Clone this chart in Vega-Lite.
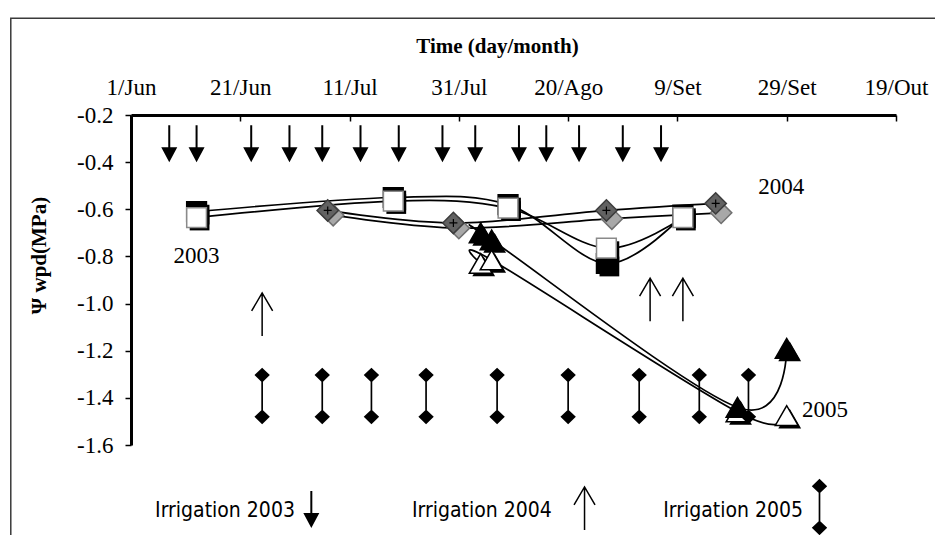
{
  "$schema": "https://vega.github.io/schema/vega-lite/v6.json",
  "width": 765,
  "height": 330,
  "autosize": {"type": "none"},
  "padding": {"left": 131, "top": 115, "right": 39, "bottom": 90},
  "background": "white",
  "config": {"font": "Liberation Serif", "view": {"stroke": null}},
  "datasets": {
    "obs": [
      {"year": "2003", "series": "2003 B", "date": "2000-06-13", "psi": -0.61},
      {"year": "2003", "series": "2003 B", "date": "2000-07-19", "psi": -0.55},
      {"year": "2003", "series": "2003 B", "date": "2000-08-09", "psi": -0.58},
      {"year": "2003", "series": "2003 B", "date": "2000-08-27", "psi": -0.83},
      {"year": "2003", "series": "2003 B", "date": "2000-09-10", "psi": -0.625},
      {"year": "2003", "series": "2003 W", "date": "2000-06-13", "psi": -0.635},
      {"year": "2003", "series": "2003 W", "date": "2000-07-19", "psi": -0.565},
      {"year": "2003", "series": "2003 W", "date": "2000-08-09", "psi": -0.595},
      {"year": "2003", "series": "2003 W", "date": "2000-08-27", "psi": -0.765},
      {"year": "2003", "series": "2003 W", "date": "2000-09-10", "psi": -0.635},
      {"year": "2004", "series": "2004 P", "date": "2000-07-08", "psi": -0.625},
      {"year": "2004", "series": "2004 P", "date": "2000-07-31", "psi": -0.68},
      {"year": "2004", "series": "2004 P", "date": "2000-08-28", "psi": -0.64},
      {"year": "2004", "series": "2004 P", "date": "2000-09-17", "psi": -0.615},
      {"year": "2004", "series": "2004 G", "date": "2000-07-07", "psi": -0.605},
      {"year": "2004", "series": "2004 G", "date": "2000-07-30", "psi": -0.658},
      {"year": "2004", "series": "2004 G", "date": "2000-08-27", "psi": -0.605},
      {"year": "2004", "series": "2004 G", "date": "2000-09-16", "psi": -0.575},
      {"year": "2005", "series": "2005 W", "date": "2000-08-04", "psi": -0.83},
      {"year": "2005", "series": "2005 W", "date": "2000-08-06", "psi": -0.815},
      {"year": "2005", "series": "2005 W", "date": "2000-09-20", "psi": -1.46},
      {"year": "2005", "series": "2005 W", "date": "2000-09-29", "psi": -1.475},
      {"year": "2005", "series": "2005 B", "date": "2000-08-04", "psi": -0.70},
      {"year": "2005", "series": "2005 B", "date": "2000-08-06", "psi": -0.73},
      {"year": "2005", "series": "2005 B", "date": "2000-09-20", "psi": -1.44},
      {"year": "2005", "series": "2005 B", "date": "2000-09-29", "psi": -1.19}
    ],
    "irr2003": [
      {"date": "2000-06-08"}, {"date": "2000-06-13"}, {"date": "2000-06-23"}, {"date": "2000-06-30"},
      {"date": "2000-07-06"}, {"date": "2000-07-13"}, {"date": "2000-07-20"}, {"date": "2000-07-28"},
      {"date": "2000-08-03"}, {"date": "2000-08-11"}, {"date": "2000-08-16"}, {"date": "2000-08-22"},
      {"date": "2000-08-30"}, {"date": "2000-09-06"}
    ],
    "irr2004a": [{"date": "2000-06-25"}],
    "irr2004b": [{"date": "2000-09-04"}, {"date": "2000-09-10"}],
    "irr2005": [
      {"date": "2000-06-25"}, {"date": "2000-07-06"}, {"date": "2000-07-15"}, {"date": "2000-07-25"},
      {"date": "2000-08-07"}, {"date": "2000-08-20"}, {"date": "2000-09-02"}, {"date": "2000-09-13"},
      {"date": "2000-09-22"}
    ]
  },
  "layer": [
    {
      "data": {"values": [{}]},
      "mark": {"type": "rect", "filled": false, "color": "#3a3a3a", "strokeWidth": 1.5},
      "encoding": {
        "x": {"datum": {"year": 2000, "month": 5, "date": 10, "utc": true}, "type": "temporal", "scale": {"type": "utc"}},
        "x2": {"datum": {"year": 2000, "month": 11, "date": 8, "utc": true}},
        "y": {"datum": 0.21, "type": "quantitative"},
        "y2": {"datum": -2.4}
      }
    },
    {
      "encoding": {
        "x": {
          "field": "date",
          "type": "temporal",
          "scale": {
            "type": "utc",
            "domain": [
              {"year": 2000, "month": 6, "date": 1, "utc": true},
              {"year": 2000, "month": 10, "date": 19, "utc": true}
            ]
          },
          "axis": {
            "orient": "top",
            "values": [
              {"year": 2000, "month": 6, "date": 1, "utc": true},
              {"year": 2000, "month": 6, "date": 21, "utc": true},
              {"year": 2000, "month": 7, "date": 11, "utc": true},
              {"year": 2000, "month": 7, "date": 31, "utc": true},
              {"year": 2000, "month": 8, "date": 20, "utc": true},
              {"year": 2000, "month": 9, "date": 9, "utc": true},
              {"year": 2000, "month": 9, "date": 29, "utc": true},
              {"year": 2000, "month": 10, "date": 19, "utc": true}
            ],
            "labelExpr": "utcdate(datum.value) + '/' + ['Jan','Fev','Mar','Abr','Mai','Jun','Jul','Ago','Set','Out','Nov','Dez'][utcmonth(datum.value)]",
            "title": "Time (day/month)",
            "titleFont": "Liberation Serif",
            "titleFontWeight": "bold",
            "titleFontSize": 21,
            "titleColor": "black",
            "titleX": 366,
            "titleY": -63,
            "titleBaseline": "alphabetic",
            "titleAlign": "center",
            "labelFont": "Liberation Serif",
            "labelFontSize": 23,
            "labelColor": "black",
            "labelPadding": 22,
            "labelFlush": false,
            "labelOverlap": false,
            "domainColor": "black",
            "domainWidth": 3,
            "tickColor": "black",
            "tickWidth": 1.5,
            "tickSize": -6,
            "grid": false
          }
        }
      },
      "layer": [
        {
          "encoding": {
            "y": {
              "field": "psi",
              "type": "quantitative",
              "scale": {"domain": [-1.6, -0.2], "nice": false, "zero": false},
              "axis": {
                "values": [-0.2, -0.4, -0.6, -0.8, -1.0, -1.2, -1.4, -1.6],
                "format": ".1f",
                "labelExpr": "replace(datum.label, '\u2212', '-')",
                "title": "Ψ wpd(MPa)",
                "titleFont": "Liberation Serif",
                "titleFontWeight": "bold",
                "titleFontSize": 21,
                "titleColor": "black",
                "titleAngle": -90,
                "titleX": -92,
                "titleY": 140,
                "titleBaseline": "middle",
                "titleAlign": "center",
                "labelFont": "Liberation Serif",
                "labelFontSize": 23,
                "labelColor": "black",
                "labelPadding": 12,
                "labelOverlap": false,
                "domainColor": "black",
                "domainWidth": 3,
                "tickColor": "black",
                "tickWidth": 1.5,
                "tickSize": 6,
                "grid": false
              }
            }
          },
          "layer": [
            {
              "data": {"name": "obs"},
              "mark": {"type": "line", "interpolate": "cardinal", "color": "black", "strokeWidth": 1.7},
              "encoding": {"detail": {"field": "series"}}
            },
            {
              "data": {"name": "obs"},
              "transform": [{"filter": "datum.year != '2004'"}],
              "mark": {"type": "point", "filled": true, "color": "black", "opacity": 1, "xOffset": 3, "yOffset": 3},
              "encoding": {
                "shape": {"field": "year", "type": "nominal", "scale": {"domain": ["2003", "2004", "2005"], "range": ["square", "diamond", "triangle-up"]}, "legend": null},
                "size": {"field": "year", "type": "ordinal", "scale": {"domain": ["2003", "2004", "2005"], "range": [390, 520, 430]}, "legend": null}
              }
            },
            {
              "data": {"name": "obs"},
              "mark": {"type": "point", "filled": true, "opacity": 1, "strokeWidth": 1.5},
              "encoding": {
                "shape": {"field": "year", "type": "nominal", "scale": {"domain": ["2003", "2004", "2005"], "range": ["square", "diamond", "triangle-up"]}, "legend": null},
                "size": {"field": "year", "type": "ordinal", "scale": {"domain": ["2003", "2004", "2005"], "range": [390, 520, 430]}, "legend": null},
                "fill": {"field": "series", "type": "nominal", "scale": {"domain": ["2003 B", "2003 W", "2004 P", "2004 G", "2005 W", "2005 B"], "range": ["black", "white", "#a8a8a8", "#626262", "white", "black"]}, "legend": null},
                "stroke": {"field": "series", "type": "nominal", "scale": {"domain": ["2003 B", "2003 W", "2004 P", "2004 G", "2005 W", "2005 B"], "range": ["black", "#8a8a8a", "#6f6f6f", "#3c3c3c", "black", "black"]}, "legend": null}
              }
            },
            {
              "data": {"name": "obs"},
              "transform": [{"filter": "datum.series == '2004 G'"}],
              "mark": {"type": "point", "shape": "M-1,0L1,0M0,-1L0,1", "filled": false, "color": "black", "size": 64, "opacity": 1, "strokeWidth": 1.2}
            }
          ]
        },
        {
          "data": {"name": "irr2003"},
          "mark": {"type": "point", "shape": "M0,0L-1,-1.875L-0.125,-1.875L-0.125,-4.625L0.125,-4.625L0.125,-1.875L1,-1.875Z", "filled": true, "color": "black", "size": 256, "opacity": 1, "strokeWidth": 0},
          "encoding": {"y": {"datum": -0.4, "type": "quantitative"}}
        },
        {
          "data": {"name": "irr2004a"},
          "mark": {"type": "point", "shape": "M-1,1.71L0,0L1,1.71M0,4.1L0,0", "filled": false, "color": "black", "size": 441, "opacity": 1, "strokeWidth": 1.5},
          "encoding": {"y": {"datum": -0.955, "type": "quantitative"}}
        },
        {
          "data": {"name": "irr2004b"},
          "mark": {"type": "point", "shape": "M-1,1.71L0,0L1,1.71M0,4.1L0,0", "filled": false, "color": "black", "size": 441, "opacity": 1, "strokeWidth": 1.5},
          "encoding": {"y": {"datum": -0.892, "type": "quantitative"}}
        },
        {
          "data": {"name": "irr2005"},
          "mark": {"type": "point", "shape": "M0,-4.03L1.1,-2.98L0,-1.93L-1.1,-2.98Z M0,1.93L1.1,2.98L0,4.03L-1.1,2.98Z M-0.12,-2.98L0.12,-2.98L0.12,2.98L-0.12,2.98Z", "filled": true, "color": "black", "size": 196, "opacity": 1, "strokeWidth": 0},
          "encoding": {"y": {"datum": -1.392, "type": "quantitative"}}
        }
      ]
    },
    {
      "data": {"values": [{}]},
      "mark": {"type": "text", "text": "2003", "font": "Liberation Serif", "fontSize": 23, "color": "black", "align": "center", "baseline": "middle"},
      "encoding": {
        "x": {"datum": {"year": 2000, "month": 6, "date": 13, "utc": true}, "type": "temporal", "scale": {"type": "utc"}},
        "y": {"datum": -0.8, "type": "quantitative"}
      }
    },
    {
      "data": {"values": [{}]},
      "mark": {"type": "text", "text": "2004", "font": "Liberation Serif", "fontSize": 23, "color": "black", "align": "center", "baseline": "middle"},
      "encoding": {
        "x": {"datum": {"year": 2000, "month": 9, "date": 28, "utc": true}, "type": "temporal", "scale": {"type": "utc"}},
        "y": {"datum": -0.505, "type": "quantitative"}
      }
    },
    {
      "data": {"values": [{}]},
      "mark": {"type": "text", "text": "2005", "font": "Liberation Serif", "fontSize": 23, "color": "black", "align": "center", "baseline": "middle"},
      "encoding": {
        "x": {"datum": {"year": 2000, "month": 10, "date": 6, "utc": true}, "type": "temporal", "scale": {"type": "utc"}},
        "y": {"datum": -1.452, "type": "quantitative"}
      }
    },
    {
      "data": {"values": [{}]},
      "mark": {"type": "text", "text": "Irrigation 2003", "font": "DejaVu Sans Condensed", "fontSize": 21, "color": "black", "align": "right", "baseline": "middle"},
      "encoding": {
        "x": {"datum": {"year": 2000, "month": 7, "date": 1, "utc": true}, "type": "temporal", "scale": {"type": "utc"}},
        "y": {"datum": -1.88, "type": "quantitative"}
      }
    },
    {
      "data": {"values": [{}]},
      "mark": {"type": "text", "text": "Irrigation 2004", "font": "DejaVu Sans Condensed", "fontSize": 21, "color": "black", "align": "right", "baseline": "middle"},
      "encoding": {
        "x": {"datum": {"year": 2000, "month": 8, "date": 17, "utc": true}, "type": "temporal", "scale": {"type": "utc"}},
        "y": {"datum": -1.88, "type": "quantitative"}
      }
    },
    {
      "data": {"values": [{}]},
      "mark": {"type": "text", "text": "Irrigation 2005", "font": "DejaVu Sans Condensed", "fontSize": 21, "color": "black", "align": "right", "baseline": "middle"},
      "encoding": {
        "x": {"datum": {"year": 2000, "month": 10, "date": 2, "utc": true}, "type": "temporal", "scale": {"type": "utc"}},
        "y": {"datum": -1.88, "type": "quantitative"}
      }
    },
    {
      "data": {"values": [{}]},
      "mark": {"type": "point", "shape": "M0,0L-1,-1.875L-0.125,-1.875L-0.125,-4.625L0.125,-4.625L0.125,-1.875L1,-1.875Z", "filled": true, "color": "black", "size": 256, "opacity": 1, "strokeWidth": 0},
      "encoding": {
        "x": {"datum": {"year": 2000, "month": 7, "date": 4, "utc": true}, "type": "temporal", "scale": {"type": "utc"}},
        "y": {"datum": -1.952, "type": "quantitative"}
      }
    },
    {
      "data": {"values": [{}]},
      "mark": {"type": "point", "shape": "M-1,1.71L0,0L1,1.71M0,4.1L0,0", "filled": false, "color": "black", "size": 441, "opacity": 1, "strokeWidth": 1.5},
      "encoding": {
        "x": {"datum": {"year": 2000, "month": 8, "date": 23, "utc": true}, "type": "temporal", "scale": {"type": "utc"}},
        "y": {"datum": -1.778, "type": "quantitative"}
      }
    },
    {
      "data": {"values": [{}]},
      "mark": {"type": "point", "shape": "M0,-4.03L1.1,-2.98L0,-1.93L-1.1,-2.98Z M0,1.93L1.1,2.98L0,4.03L-1.1,2.98Z M-0.12,-2.98L0.12,-2.98L0.12,2.98L-0.12,2.98Z", "filled": true, "color": "black", "size": 196, "opacity": 1, "strokeWidth": 0},
      "encoding": {
        "x": {"datum": {"year": 2000, "month": 10, "date": 5, "utc": true}, "type": "temporal", "scale": {"type": "utc"}},
        "y": {"datum": -1.863, "type": "quantitative"}
      }
    }
  ]
}
